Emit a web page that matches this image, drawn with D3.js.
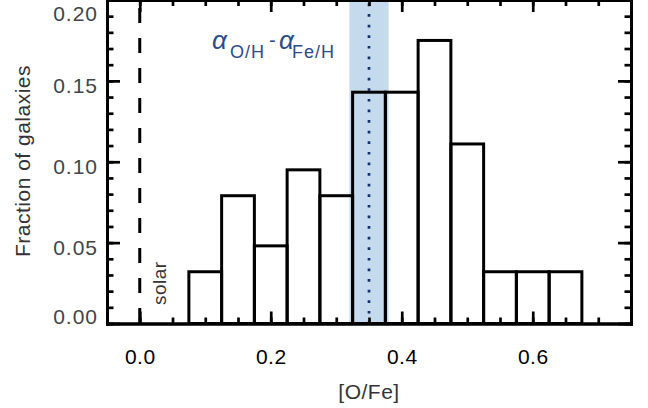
<!DOCTYPE html>
<html>
<head>
<meta charset="utf-8">
<script src="https://cdn.jsdelivr.net/npm/d3@7"></script>
<style>
  html, body { margin: 0; padding: 0; background: #fff; }
  svg { display: block; }
  text { font-family: "Liberation Sans", Arial, sans-serif; }
</style>
</head>
<body>
<svg id="chart" width="648" height="408"></svg>
<script>
// ---- data ----
const binCenters = [0.10, 0.15, 0.20, 0.25, 0.30, 0.35, 0.40, 0.45, 0.50, 0.55, 0.60, 0.65];
const fractions  = [0.032, 0.079, 0.048, 0.095, 0.079, 0.143, 0.143, 0.175, 0.111, 0.032, 0.032, 0.032];
const binWidth = 0.05;
const solarValue = 0.0;
const alphaDiff = 0.35;
const alphaBand = [0.32, 0.38];
const xTickValues = [0.0, 0.2, 0.4, 0.6];
const yTickValues = [0.00, 0.05, 0.10, 0.15, 0.20];
const xDomain = [-0.05, 0.75];
const yDomain = [0, 0.20];

// ---- layout ----
const L = 107, R = 631, T = 0, B = 323.5;
const svg = d3.select("#chart");
const x = d3.scaleLinear().domain(xDomain).range([L, R]);
const y = d3.scaleLinear().domain(yDomain).range([B, T]);

// band
svg.append("rect")
  .attr("x", x(alphaBand[0])).attr("y", T)
  .attr("width", x(alphaBand[1]) - x(alphaBand[0]))
  .attr("height", B - T)
  .attr("fill", "#c6daee");

// histogram bars
svg.append("g").selectAll("rect")
  .data(binCenters.map((c, i) => ({c, v: fractions[i]})))
  .join("rect")
  .attr("x", d => x(d.c - binWidth / 2))
  .attr("y", d => y(d.v))
  .attr("width", d => x(d.c + binWidth / 2) - x(d.c - binWidth / 2))
  .attr("height", d => B - y(d.v))
  .attr("fill", "none")
  .attr("stroke", "#000")
  .attr("stroke-width", 3);

// dotted line at alpha difference
svg.append("line")
  .attr("x1", x(alphaDiff)).attr("x2", x(alphaDiff))
  .attr("y1", 3.5).attr("y2", B)
  .attr("stroke", "#16306a")
  .attr("stroke-width", 2.7)
  .attr("stroke-dasharray", "2.7 7.9");

// dashed solar line
svg.append("line")
  .attr("x1", x(solarValue)).attr("x2", x(solarValue))
  .attr("y1", 8).attr("y2", B)
  .attr("stroke", "#000")
  .attr("stroke-width", 3)
  .attr("stroke-dasharray", "15 15");

// ---- axes ----
function styleAxis(g) {
  g.selectAll(".tick line").attr("stroke", "#000").attr("stroke-width", 2.7);
  g.select(".domain").attr("stroke", "#000").attr("stroke-width", 3).attr("stroke-linecap", "square");
}
const xMinor = x.ticks(16);
const yMinor = y.ticks(20);

// bottom
svg.append("g").attr("transform", `translate(0,${B})`)
  .call(d3.axisBottom(x).tickValues(xMinor).tickSizeInner(-6).tickSizeOuter(0).tickFormat(""))
  .call(styleAxis);
const xAx = svg.append("g").attr("transform", `translate(0,${B})`)
  .call(d3.axisBottom(x).tickValues(xTickValues).tickSizeInner(-12).tickSizeOuter(0).tickFormat(d3.format(".1f")))
  .call(styleAxis);
xAx.selectAll("text")
  .attr("y", 40.8).attr("dy", null)
  .attr("font-size", 21).attr("letter-spacing", 0.5)
  .attr("font-family", "Liberation Sans, Arial, sans-serif")
  .attr("fill", "#000");

// top
svg.append("g").attr("transform", `translate(0,${T})`)
  .call(d3.axisTop(x).tickValues(xMinor).tickSizeInner(-6).tickSizeOuter(0).tickFormat(""))
  .call(styleAxis);
svg.append("g").attr("transform", `translate(0,${T})`)
  .call(d3.axisTop(x).tickValues(xTickValues).tickSizeInner(-12).tickSizeOuter(0).tickFormat(""))
  .call(styleAxis);

// left
svg.append("g").attr("transform", `translate(${L},0)`)
  .call(d3.axisLeft(y).tickValues(yMinor).tickSizeInner(-6.5).tickSizeOuter(0).tickFormat(""))
  .call(styleAxis);
const yAx = svg.append("g").attr("transform", `translate(${L},0)`)
  .call(d3.axisLeft(y).tickValues(yTickValues).tickSizeInner(-13).tickSizeOuter(0).tickFormat(d3.format(".2f")))
  .call(styleAxis);
yAx.selectAll("text")
  .attr("x", -9)
  .attr("dy", null)
  .attr("y", d => Math.min(Math.max(y(d) + 11.5, 20), 323) - y(d))
  .attr("font-size", 21).attr("letter-spacing", 1)
  .attr("font-family", "Liberation Sans, Arial, sans-serif")
  .attr("fill", "#444");

// right
svg.append("g").attr("transform", `translate(${R},0)`)
  .call(d3.axisRight(y).tickValues(yMinor).tickSizeInner(-6.5).tickSizeOuter(0).tickFormat(""))
  .call(styleAxis);
svg.append("g").attr("transform", `translate(${R},0)`)
  .call(d3.axisRight(y).tickValues(yTickValues).tickSizeInner(-13).tickSizeOuter(0).tickFormat(""))
  .call(styleAxis);

// ---- titles ----
svg.append("text")
  .attr("transform", "translate(30,161) rotate(-90)")
  .attr("text-anchor", "middle")
  .attr("font-size", 21).attr("letter-spacing", 0.5)
  .attr("fill", "#333")
  .text("Fraction of galaxies");

svg.append("text")
  .attr("x", (L + R) / 2).attr("y", 399)
  .attr("text-anchor", "middle")
  .attr("font-size", 21).attr("letter-spacing", 0.5)
  .attr("fill", "#333")
  .text("[O/Fe]");

svg.append("text")
  .attr("transform", "translate(166,305) rotate(-90)")
  .attr("font-size", 19).attr("letter-spacing", 0.5)
  .attr("fill", "#333")
  .text("solar");

// alpha label
const blue = "#2b4c8c";
const lab = svg.append("g").attr("fill", blue);
lab.append("text").attr("x", 212).attr("y", 48.5)
  .attr("font-size", 26).attr("font-style", "italic").text("α");
lab.append("text").attr("x", 230).attr("y", 58)
  .attr("font-size", 18).attr("letter-spacing", 1).text("O/H");
lab.append("text").attr("x", 269).attr("y", 47)
  .attr("font-size", 20).text("-");
lab.append("text").attr("x", 279).attr("y", 48.5)
  .attr("font-size", 26).attr("font-style", "italic").text("α");
lab.append("text").attr("x", 292).attr("y", 58)
  .attr("font-size", 18).attr("letter-spacing", 1).text("Fe/H");
</script>
</body>
</html>
